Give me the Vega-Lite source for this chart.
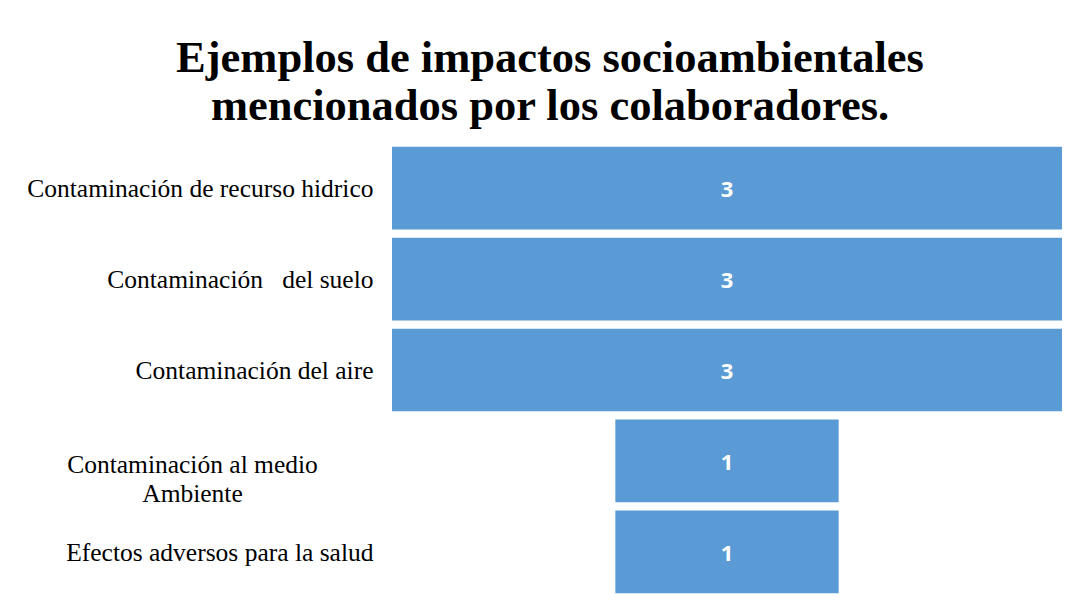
{
  "$schema": "https://vega.github.io/schema/vega-lite/v6.json",
  "width": 670,
  "height": 450,
  "autosize": "none",
  "padding": {"left": 392, "top": 145, "right": 7, "bottom": 17},
  "background": "white",
  "title": {
    "text": ["Ejemplos de impactos socioambientales", "mencionados por los colaboradores."],
    "font": "Liberation Serif",
    "fontSize": 44.5,
    "fontWeight": "bold",
    "color": "#000000",
    "anchor": "middle",
    "frame": "group",
    "dx": -177,
    "offset": 16,
    "lineHeight": 48
  },
  "data": {
    "values": [
      {"impacto": "Contaminación de recurso hidrico", "menciones": 3},
      {"impacto": "Contaminación\u00a0\u00a0 del suelo", "menciones": 3},
      {"impacto": "Contaminación del aire", "menciones": 3},
      {"impacto": "Contaminación al medio Ambiente", "menciones": 1},
      {"impacto": "Efectos adversos para la salud", "menciones": 1}
    ]
  },
  "encoding": {
    "y": {
      "field": "impacto",
      "type": "nominal",
      "sort": null,
      "title": null,
      "scale": {"paddingInner": 0.09, "paddingOuter": 0.02},
      "axis": {
        "ticks": false,
        "domain": false,
        "grid": false,
        "labelFont": "Liberation Serif",
        "labelFontSize": 25.5,
        "labelColor": "#000000",
        "labelAlign": {"condition": {"test": "datum.value == 'Contaminación al medio Ambiente'", "value": "center"}, "value": "right"},
        "labelPadding": {"condition": {"test": "datum.value == 'Contaminación al medio Ambiente'", "value": 200}, "value": 19},
        "labelOffset": {"condition": {"test": "datum.value == 'Contaminación al medio Ambiente'", "value": 4}, "value": 1},
        "labelLimit": 400,
        "labelLineHeight": 29,
        "labelExpr": "datum.value == 'Contaminación al medio Ambiente' ? ['Contaminación al medio', 'Ambiente'] : datum.value"
      }
    }
  },
  "layer": [
    {
      "mark": {"type": "bar", "color": "#5b9bd5"},
      "encoding": {
        "x": {
          "field": "menciones",
          "type": "quantitative",
          "stack": "center",
          "scale": {"domain": [0, 3], "nice": false},
          "axis": null
        }
      }
    },
    {
      "mark": {"type": "text", "color": "white", "font": "Open Sans", "fontWeight": "bold", "fontSize": 22, "dy": 2},
      "encoding": {
        "x": {"datum": 1.5, "type": "quantitative"},
        "text": {"field": "menciones", "type": "quantitative"}
      }
    }
  ],
  "config": {"view": {"stroke": null}}
}
